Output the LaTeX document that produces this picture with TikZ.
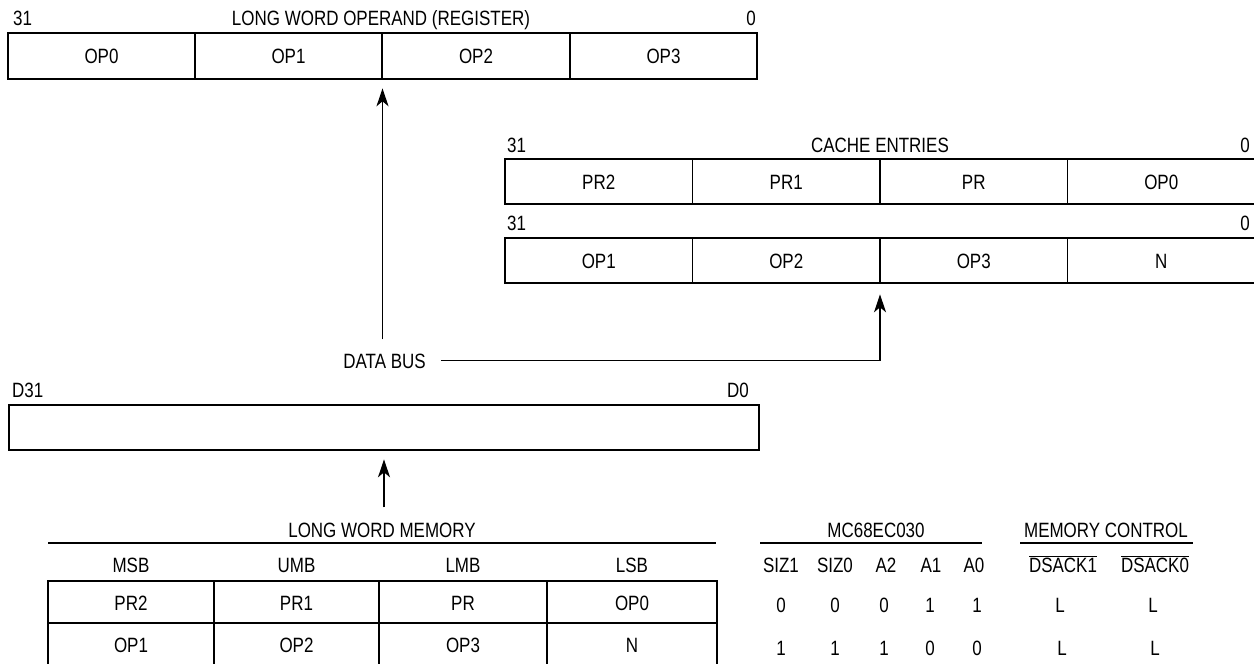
\documentclass[tikz,border=0pt]{standalone}
\usepackage{fontspec}
\setmainfont{Liberation Sans}[FakeStretch=0.82]
\usetikzlibrary{arrows.meta}
\begin{document}
\begin{tikzpicture}[x=1pt,y=-1pt,font=\fontsize{20.7}{24}\selectfont,
  bx/.style={draw,line width=2.6pt,inner sep=0,minimum height=45pt},
  dv/.style={line width=1.1pt},
  rl/.style={line width=1.3pt},
  tx/.style={inner sep=0,anchor=base},
  arr/.style={line width=1.2pt,-{Stealth[length=18pt,width=12pt,inset=5pt]}}]
\useasboundingbox (0,0) rectangle (1254,664);

% ---- long word operand (register)
\node[tx,anchor=base west] (t31) at (13,25) {31};
\node[tx] (ttl) at (381,25) {LONG WORD OPERAND (REGISTER)};
\node[tx,anchor=base east] (t0) at (756,25) {0};
\node[bx,minimum width=749pt,minimum height=46pt] (reg) at (382.5,56) {};
\foreach \x in {195,382,570} \draw[dv] (\x,33) -- (\x,79);
\node[tx] (r0) at (101.5,63.4) {OP0};
\node[tx] (r1) at (288.5,63.4) {OP1};
\node[tx] (r2) at (476,63.4) {OP2};
\node[tx] (r3) at (663.5,63.4) {OP3};

% ---- cache entries
\node[tx,anchor=base west] (c31a) at (507,152) {31};
\node[tx] (cttl) at (880,152) {CACHE ENTRIES};
\node[tx,anchor=base east] (c0a) at (1250,152) {0};
\node[bx,minimum width=750pt] (c1) at (880,181.5) {};
\foreach \x in {692.5,880,1067.5} \draw[dv] (\x,159) -- (\x,204);
\node[tx] (c1a) at (598.75,189) {PR2};
\node[tx] (c1b) at (786.25,189) {PR1};
\node[tx] (c1c) at (973.75,189) {PR};
\node[tx] (c1d) at (1161.25,189) {OP0};

\node[tx,anchor=base west] (c31b) at (507,230) {31};
\node[tx,anchor=base east] (c0b) at (1250,230) {0};
\node[bx,minimum width=750pt] (c2) at (880,260.5) {};
\foreach \x in {692.5,880,1067.5} \draw[dv] (\x,238) -- (\x,283);
\node[tx] (c2a) at (598.75,268) {OP1};
\node[tx] (c2b) at (786.25,268) {OP2};
\node[tx] (c2c) at (973.75,268) {OP3};
\node[tx] (c2d) at (1161.25,268) {N};

% ---- data bus
\node[tx] (db) at (384.5,368) {DATA BUS};
\node[tx,anchor=base west] (d31) at (12,397) {D31};
\node[tx,anchor=base east] (d0) at (749,397) {D0};
\node[bx,minimum width=750pt] (dbox) at (384,427.5) {};

% ---- long word memory
\node[tx] (lwm) at (382,537) {LONG WORD MEMORY};
\draw[rl] (48,543) -- (716,543);
\node[tx] (h1) at (131,572) {MSB};
\node[tx] (h2) at (296.5,572) {UMB};
\node[tx] (h3) at (463,572) {LMB};
\node[tx] (h4) at (632,572) {LSB};
\node[bx,minimum width=669pt,minimum height=85pt] (tbl) at (382.5,623.5) {};
\draw[dv] (48,623) -- (717,623);
\foreach \x in {214,379,547} \draw[dv] (\x,581) -- (\x,666);
\node[tx] (m1a) at (131,610) {PR2};
\node[tx] (m1b) at (296.5,610) {PR1};
\node[tx] (m1c) at (463,610) {PR};
\node[tx] (m1d) at (632,610) {OP0};
\node[tx] (m2a) at (131,652) {OP1};
\node[tx] (m2b) at (296.5,652) {OP2};
\node[tx] (m2c) at (463,652) {OP3};
\node[tx] (m2d) at (632,652) {N};

% ---- MC68EC030 / memory control table
\node[tx] (mc) at (876,537) {MC68EC030};
\draw[rl] (760,543) -- (982,543);
\node[tx] (mem) at (1106,537) {MEMORY CONTROL};
\draw[rl] (1020,543) -- (1193,543);
\node[tx] (s1) at (781,572) {SIZ1};
\node[tx] (s0) at (835,572) {SIZ0};
\node[tx] (a2) at (886,572) {A2};
\node[tx] (a1) at (931,572) {A1};
\node[tx] (a0) at (974,572) {A0};
\node[tx] (k1) at (1063,572) {$\overline{\mbox{DSACK1}}$};
\node[tx] (k0) at (1155,572) {$\overline{\mbox{DSACK0}}$};
\node[tx] (v11) at (781,612) {0};
\node[tx] (v12) at (835,612) {0};
\node[tx] (v13) at (884,612) {0};
\node[tx] (v14) at (930,612) {1};
\node[tx] (v15) at (977,612) {1};
\node[tx] (v16) at (1060,612) {L};
\node[tx] (v17) at (1153,612) {L};
\node[tx] (v21) at (781,655) {1};
\node[tx] (v22) at (835,655) {1};
\node[tx] (v23) at (884,655) {1};
\node[tx] (v24) at (930,655) {0};
\node[tx] (v25) at (977,655) {0};
\node[tx] (v26) at (1062,655) {L};
\node[tx] (v27) at (1155,655) {L};

% ---- connectors
\path (reg.south |- db.north) coordinate (dbtop);
\draw[arr] ([yshift=14pt]dbtop) -- ([yshift=-8pt]reg.south);
\draw[arr] ([xshift=15pt]db.east) -| ([yshift=-10pt]c2.south);
\path (dbox.south |- lwm.north) coordinate (lwmtop);
\draw[arr] ([yshift=15pt]lwmtop) -- ([yshift=-8pt]dbox.south);
\end{tikzpicture}
\end{document}
